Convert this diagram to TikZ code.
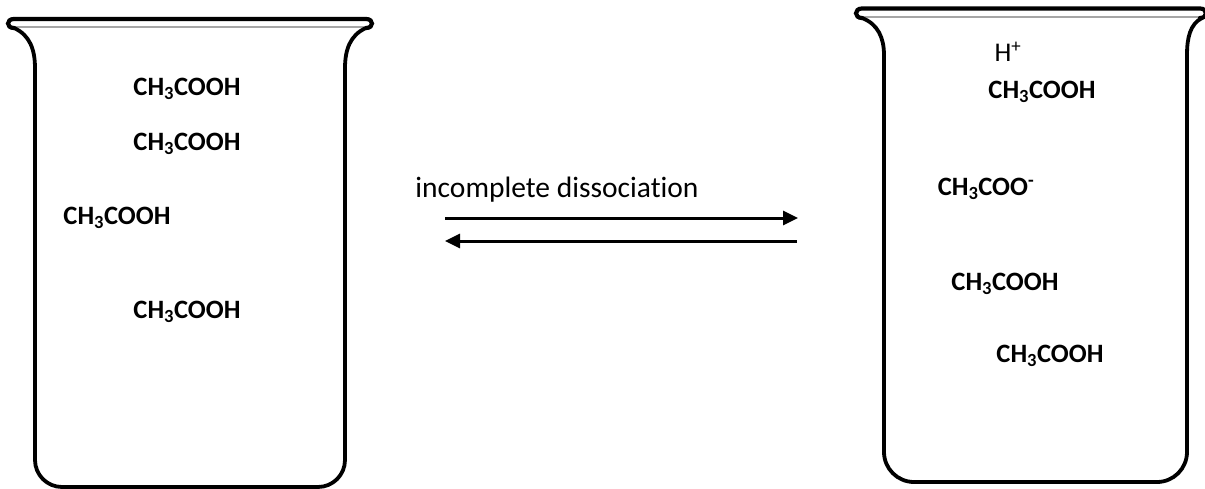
\documentclass[tikz,border=0pt]{standalone}
\usepackage{fontspec}
\setmainfont{Carlito}[Ligatures=NoCommon]
\usetikzlibrary{arrows.meta}
\begin{document}
\begin{tikzpicture}[x=1pt,y=-1pt,
  wall/.style={line width=3.8pt,line join=round},
  rimline/.style={line width=4.2pt,line cap=round},
  inner/.style={line width=1.6pt,gray!70},
  chem/.style={font=\fontsize{26.5}{30}\selectfont\bfseries,inner sep=0pt},
  lbl/.style={font=\fontsize{29.5}{33}\selectfont,inner sep=0pt},
  arr/.style={line width=3pt,-{Triangle[length=15pt,width=14pt]}}]
\useasboundingbox (0,0) rectangle (1205,488);
% left beaker
\draw[inner] (15,27) -- (364,27);
\draw[rimline] (14,28) .. controls (6,28) and (6,19) .. (14,19) -- (366,19) .. controls (374,19) and (374,28) .. (366,28);
\draw[wall] (14,28) .. controls (30,35) and (35,50) .. (35,68) -- (35,460) arc[start angle=180,end angle=90,radius=27] -- (318,487) arc[start angle=90,end angle=0,radius=27] -- (345,68) .. controls (345,50) and (350,35) .. (366,28);
% right beaker
\draw[inner] (862,17) -- (1203,17);
\draw[rimline] (862,18) .. controls (854,18) and (854,8.5) .. (862,8.5) -- (1200,8.5) .. controls (1208,8.5) and (1208,18) .. (1200,18);
\draw[wall] (862,18) .. controls (878,24) and (884,38) .. (884,55) -- (884,452) arc[start angle=180,end angle=90,radius=30] -- (1157,482) arc[start angle=90,end angle=0,radius=30] -- (1187,55) .. controls (1187,38) and (1190,24) .. (1202,18);
% texts left
\node[chem] (l1) at (187,89) {CH\textsubscript{3}COOH};
\node[chem] (l2) at (187,144) {CH\textsubscript{3}COOH};
\node[chem] (l3) at (117,218) {CH\textsubscript{3}COOH};
\node[chem] (l4) at (187,312) {CH\textsubscript{3}COOH};
% texts right
\node[lbl,font=\fontsize{27}{30}\selectfont] (h) at (1008,52) {H\textsuperscript{+}};
\node[chem] (r1) at (1042,92) {CH\textsubscript{3}COOH};
\node[chem] (r2) at (986,189) {CH\textsubscript{3}COO\textsuperscript{-}};
\node[chem] (r3) at (1005,284) {CH\textsubscript{3}COOH};
\node[chem] (r4) at (1050,356) {CH\textsubscript{3}COOH};
% arrows
\node[lbl] (t) at (557,190) {incomplete dissociation};
\coordinate (a1) at (445,218);
\coordinate (b1) at (798,218);
\coordinate (a2) at (797,241);
\coordinate (b2) at (445,241);
\draw[arr] (a1) -- (b1);
\draw[arr] (a2) -- (b2);
\end{tikzpicture}
\end{document}
